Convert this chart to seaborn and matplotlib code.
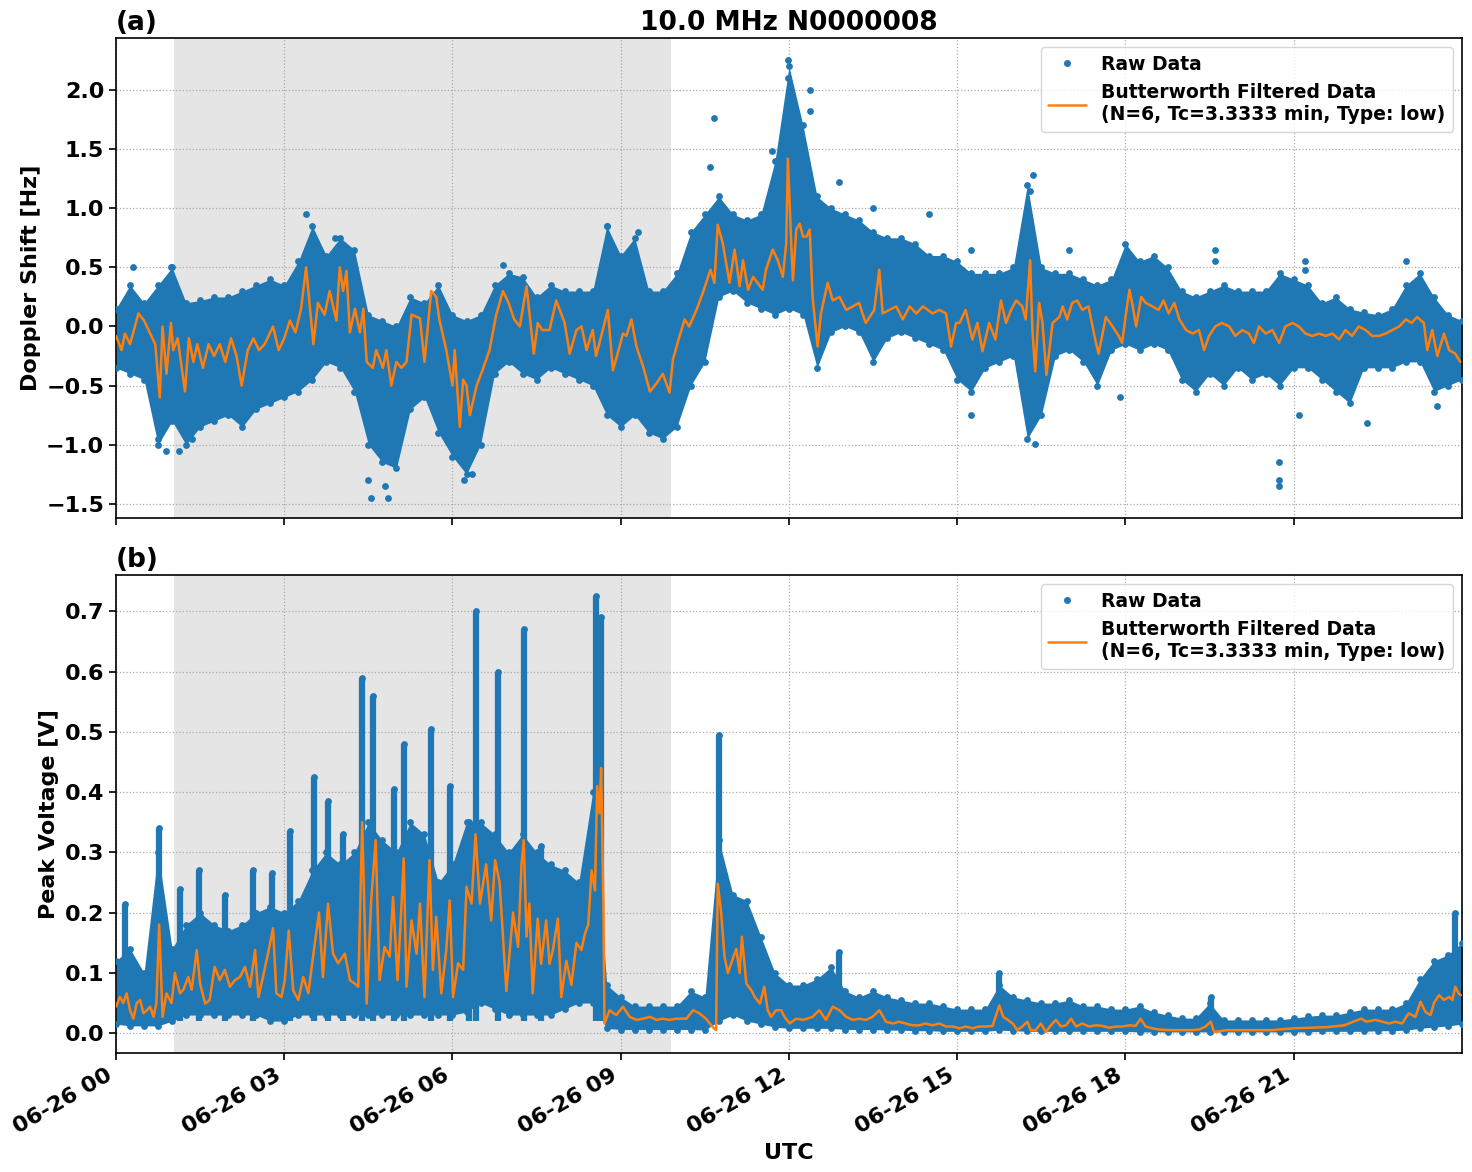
import numpy as np
import pandas as pd
import matplotlib
matplotlib.use("Agg")
import matplotlib.pyplot as plt
from matplotlib.lines import Line2D
import seaborn as sns

# ---------------- data ----------------
hour_ticks = [0, 3, 6, 9, 12, 15, 18, 21]
tick_labels = ["06-26 00", "06-26 03", "06-26 06", "06-26 09",
               "06-26 12", "06-26 15", "06-26 18", "06-26 21"]
night_start, night_end = 1.03, 9.9

# envelope grid: every 15 minutes, 0 .. 24 h
grid_t = np.linspace(0, 24, 97)

# panel (a) Doppler shift raw-data envelope
a_high = [0.15, 0.35, 0.2, 0.35, 0.5, 0.2, 0.22, 0.25, 0.25, 0.3, 0.35, 0.4,
          0.35, 0.55, 0.85, 0.6, 0.75, 0.65, 0.1, 0.05, 0.0, 0.25, 0.2, 0.35,
          0.1, 0.05, 0.1, 0.35, 0.45, 0.42, 0.25, 0.35, 0.3, 0.3, 0.3, 0.85,
          0.6, 0.75, 0.3, 0.3, 0.45, 0.8, 0.95, 1.1, 0.95, 0.9, 0.95, 1.4,
          2.2, 1.7, 1.1, 1.0, 0.95, 0.9, 0.8, 0.75, 0.75, 0.7, 0.6, 0.6,
          0.55, 0.45, 0.45, 0.45, 0.5, 1.2, 0.5, 0.45, 0.45, 0.4, 0.35, 0.4,
          0.7, 0.55, 0.6, 0.5, 0.3, 0.25, 0.3, 0.35, 0.3, 0.3, 0.3, 0.45,
          0.4, 0.35, 0.2, 0.25, 0.15, 0.12, 0.1, 0.15, 0.35, 0.45, 0.25, 0.1,
          0.05]
a_low = [-0.35, -0.4, -0.45, -1.0, -0.8, -1.0, -0.85, -0.8, -0.75, -0.85, -0.7, -0.65,
         -0.6, -0.55, -0.45, -0.3, -0.35, -0.55, -1.0, -1.15, -1.2, -0.7, -0.6, -0.9,
         -1.1, -1.25, -1.0, -0.4, -0.3, -0.4, -0.45, -0.35, -0.4, -0.45, -0.5, -0.75,
         -0.85, -0.75, -0.9, -0.95, -0.85, -0.5, -0.3, 0.25, 0.3, 0.2, 0.15, 0.1,
         0.15, 0.1, -0.35, -0.05, 0.0, -0.05, -0.3, -0.1, -0.05, -0.1, -0.15, -0.2,
         -0.45, -0.55, -0.35, -0.3, -0.25, -0.95, -0.75, -0.25, -0.2, -0.3, -0.5, -0.2,
         -0.15, -0.2, -0.15, -0.2, -0.45, -0.55, -0.4, -0.5, -0.35, -0.45, -0.4, -0.5,
         -0.35, -0.35, -0.45, -0.55, -0.65, -0.35, -0.35, -0.35, -0.3, -0.3, -0.55, -0.5,
         -0.45]

# panel (a) isolated raw points
a_out_t = [0.3, 0.98, 0.9, 0.75, 1.13, 1.35, 3.39, 3.9, 4.55, 4.85, 4.5, 4.8, 6.2, 6.35,
           6.9, 8.75, 9.3, 10.67, 10.6, 11.7, 11.98, 11.98, 12.38, 12.38, 12.1, 12.9,
           13.5, 14.5, 15.25, 15.25, 16.35, 16.3, 16.38, 17.0, 17.9, 19.6, 19.6, 20.74,
           20.74, 20.74, 21.2, 21.2, 21.1, 22.3, 23.0, 23.56]
a_out_v = [0.5, 0.5, -1.05, -0.95, -1.05, -0.95, 0.95, 0.75, -1.45, -1.45, -1.3, -1.35,
           -1.3, -1.25, 0.52, 0.85, 0.8, 1.76, 1.35, 1.48, 2.25, 2.1, 2.0, 1.82, 1.45,
           1.22, 1.0, 0.95, 0.65, -0.75, 1.28, 1.15, -0.99, 0.65, -0.6, 0.65, 0.55,
           -1.15, -1.3, -1.35, 0.55, 0.48, -0.75, -0.82, 0.55, -0.67]

# panel (a) Butterworth filtered line
a_filt_t = [0.0, 0.1, 0.16, 0.25, 0.4, 0.5, 0.6, 0.7, 0.78, 0.83, 0.9, 0.98, 1.02, 1.1,
            1.23, 1.3, 1.38, 1.45, 1.55, 1.65, 1.75, 1.85, 1.95, 2.05, 2.15, 2.24, 2.35,
            2.45, 2.55, 2.65, 2.8, 2.9, 3.0, 3.1, 3.2, 3.3, 3.39, 3.45, 3.52, 3.6, 3.72,
            3.81, 3.93, 3.99, 4.05, 4.11, 4.17, 4.26, 4.35, 4.41, 4.47, 4.58, 4.64, 4.76,
            4.82, 4.91, 5.0, 5.09, 5.18, 5.27, 5.42, 5.5, 5.62, 5.71, 5.77, 5.89, 6.0,
            6.04, 6.13, 6.19, 6.25, 6.31, 6.43, 6.55, 6.66, 6.78, 6.9, 7.0, 7.1, 7.2,
            7.32, 7.45, 7.52, 7.6, 7.73, 7.85, 8.0, 8.09, 8.21, 8.3, 8.39, 8.5, 8.56,
            8.68, 8.77, 8.86, 8.95, 9.04, 9.1, 9.19, 9.28, 9.4, 9.52, 9.64, 9.75, 9.87,
            9.93, 10.05, 10.14, 10.22, 10.35, 10.46, 10.6, 10.67, 10.73, 10.82, 10.94,
            11.03, 11.12, 11.18, 11.27, 11.36, 11.53, 11.59, 11.71, 11.8, 11.89, 11.95,
            11.98, 12.04, 12.07, 12.13, 12.19, 12.25, 12.31, 12.37, 12.42, 12.51, 12.57,
            12.69, 12.78, 12.9, 13.02, 13.14, 13.25, 13.31, 13.37, 13.52, 13.61, 13.67,
            13.79, 13.91, 14.03, 14.15, 14.27, 14.39, 14.56, 14.68, 14.8, 14.89, 14.98,
            15.04, 15.15, 15.27, 15.36, 15.45, 15.57, 15.68, 15.78, 15.87, 15.96, 16.05,
            16.16, 16.22, 16.3, 16.34, 16.39, 16.46, 16.52, 16.59, 16.7, 16.82, 16.88,
            16.96, 17.05, 17.14, 17.23, 17.34, 17.46, 17.52, 17.65, 17.77, 17.88, 17.94,
            18.0, 18.07, 18.13, 18.19, 18.28, 18.36, 18.48, 18.59, 18.68, 18.77, 18.87,
            18.96, 19.08, 19.2, 19.31, 19.4, 19.49, 19.6, 19.72, 19.85, 19.96, 20.08,
            20.2, 20.29, 20.38, 20.5, 20.62, 20.74, 20.85, 20.98, 21.09, 21.21, 21.33,
            21.45, 21.57, 21.69, 21.81, 21.92, 22.04, 22.16, 22.28, 22.4, 22.52, 22.64,
            22.76, 22.88, 23.0, 23.1, 23.2, 23.32, 23.38, 23.47, 23.56, 23.68, 23.77,
            23.88, 23.97]
a_filt_v = [-0.08, -0.2, -0.06, -0.15, 0.11, 0.05, -0.05, -0.15, -0.6, 0.0, -0.4, 0.03,
            -0.2, -0.1, -0.55, -0.1, -0.3, -0.15, -0.35, -0.15, -0.25, -0.15, -0.3, -0.1,
            -0.25, -0.5, -0.2, -0.1, -0.2, -0.15, 0.0, -0.2, -0.1, 0.05, -0.05, 0.15, 0.5,
            0.2, -0.15, 0.2, 0.1, 0.3, 0.05, 0.5, 0.3, 0.47, -0.05, 0.15, -0.05, 0.15,
            -0.3, -0.35, -0.2, -0.35, -0.2, -0.5, -0.3, -0.35, -0.3, 0.1, 0.07, -0.3, 0.3,
            0.25, 0.05, -0.2, -0.5, -0.2, -0.85, -0.45, -0.5, -0.75, -0.5, -0.35, -0.2,
            0.1, 0.3, 0.2, 0.06, 0.0, 0.34, -0.23, 0.03, -0.03, -0.03, 0.22, 0.03, -0.23,
            -0.03, 0.0, -0.2, -0.03, -0.25, -0.03, 0.14, -0.37, -0.22, -0.06, -0.08, 0.06,
            -0.17, -0.34, -0.55, -0.48, -0.4, -0.56, -0.28, -0.08, 0.06, 0.0, 0.14, 0.28,
            0.48, 0.37, 0.86, 0.7, 0.37, 0.65, 0.34, 0.56, 0.31, 0.42, 0.31, 0.48, 0.65,
            0.56, 0.42, 0.7, 1.42, 0.7, 0.39, 0.82, 0.87, 0.76, 0.76, 0.82, 0.25, -0.17,
            0.11, 0.37, 0.22, 0.25, 0.14, 0.17, 0.2, 0.11, 0.03, 0.14, 0.48, 0.11, 0.14,
            0.17, 0.06, 0.17, 0.11, 0.17, 0.11, 0.14, 0.11, -0.17, 0.03, 0.03, 0.14,
            -0.11, 0.03, -0.21, 0.03, -0.11, 0.22, 0.03, 0.14, 0.22, 0.17, 0.06, 0.56,
            -0.03, -0.38, 0.2, 0.03, -0.41, 0.03, 0.08, 0.17, 0.06, 0.2, 0.22, 0.14, 0.17,
            -0.11, -0.23, 0.08, 0.0, -0.08, -0.14, 0.08, 0.31, 0.17, 0.0, 0.25, 0.2, 0.17,
            0.14, 0.22, 0.11, 0.2, 0.06, -0.03, -0.06, -0.03, -0.2, -0.08, 0.0, 0.03, 0.0,
            -0.08, -0.03, -0.06, -0.14, 0.0, -0.06, -0.03, -0.14, 0.0, 0.03, 0.0, -0.06,
            -0.08, -0.06, -0.08, -0.06, -0.11, -0.03, -0.08, 0.0, -0.03, -0.08, -0.08,
            -0.06, -0.03, 0.0, 0.06, 0.03, 0.08, 0.03, -0.2, -0.03, -0.25, -0.06, -0.2,
            -0.23, -0.3]

# panel (b) peak voltage raw-data envelope
b_high = [0.12, 0.14, 0.1, 0.3, 0.14, 0.18, 0.2, 0.18, 0.17, 0.18, 0.2, 0.21,
          0.2, 0.22, 0.27, 0.3, 0.28, 0.3, 0.35, 0.32, 0.3, 0.35, 0.33, 0.25,
          0.28, 0.35, 0.35, 0.33, 0.3, 0.33, 0.3, 0.28, 0.27, 0.25, 0.4, 0.08,
          0.06, 0.045, 0.045, 0.045, 0.045, 0.07, 0.06, 0.32, 0.23, 0.22, 0.16, 0.1,
          0.08, 0.08, 0.09, 0.11, 0.07, 0.06, 0.07, 0.06, 0.055, 0.05, 0.05, 0.045,
          0.04, 0.04, 0.04, 0.08, 0.06, 0.055, 0.05, 0.05, 0.055, 0.045, 0.045, 0.04,
          0.04, 0.045, 0.035, 0.03, 0.025, 0.025, 0.05, 0.022, 0.022, 0.022, 0.022, 0.022,
          0.025, 0.028, 0.03, 0.03, 0.035, 0.04, 0.04, 0.04, 0.05, 0.09, 0.12, 0.13,
          0.15]
b_low = [0.015, 0.012, 0.012, 0.012, 0.02, 0.03, 0.03, 0.03, 0.03, 0.03, 0.03, 0.02,
         0.02, 0.03, 0.03, 0.03, 0.03, 0.03, 0.03, 0.03, 0.03, 0.03, 0.03, 0.03,
         0.03, 0.035, 0.05, 0.04, 0.03, 0.03, 0.03, 0.03, 0.04, 0.05, 0.05, 0.008,
         0.006, 0.006, 0.006, 0.006, 0.006, 0.006, 0.005, 0.02, 0.03, 0.02, 0.015, 0.01,
         0.008, 0.008, 0.008, 0.008, 0.006, 0.006, 0.006, 0.005, 0.005, 0.004, 0.004, 0.003,
         0.003, 0.003, 0.003, 0.005, 0.004, 0.003, 0.003, 0.003, 0.003, 0.003, 0.003, 0.003,
         0.003, 0.002, 0.002, 0.002, 0.002, 0.002, 0.002, 0.002, 0.002, 0.002, 0.002, 0.002,
         0.002, 0.002, 0.003, 0.003, 0.003, 0.003, 0.004, 0.004, 0.005, 0.008, 0.01, 0.012,
         0.015]

# panel (b) narrow bursts (columns of raw points)
b_spike_t = [0.16, 0.77, 1.14, 1.48, 1.95, 2.45, 2.79, 3.1, 3.53, 3.78, 4.05, 4.39, 4.58,
             4.96, 5.13, 5.61, 5.95, 6.3, 6.42, 6.82, 7.27, 7.58, 8.55, 8.65, 10.76,
             12.9, 15.75, 19.52, 23.88]
b_spike_v = [0.215, 0.34, 0.24, 0.27, 0.23, 0.27, 0.265, 0.335, 0.425, 0.385, 0.33, 0.59,
             0.56, 0.405, 0.48, 0.505, 0.41, 0.35, 0.70, 0.60, 0.67, 0.31, 0.725, 0.69,
             0.495, 0.135, 0.1, 0.06, 0.2]

# panel (b) Butterworth filtered line
b_filt_t = [0.0, 0.07, 0.13, 0.19, 0.25, 0.31, 0.37, 0.43, 0.49, 0.55, 0.61, 0.67, 0.72,
            0.77, 0.83, 0.9, 0.99, 1.05, 1.14, 1.2, 1.29, 1.35, 1.44, 1.5, 1.59, 1.67,
            1.76, 1.85, 1.94, 2.03, 2.12, 2.21, 2.3, 2.39, 2.48, 2.54, 2.62, 2.71, 2.8,
            2.86, 2.95, 3.01, 3.08, 3.16, 3.25, 3.34, 3.43, 3.52, 3.62, 3.69, 3.78, 3.87,
            3.96, 4.08, 4.17, 4.26, 4.32, 4.39, 4.47, 4.55, 4.63, 4.7, 4.79, 4.88, 4.94,
            5.02, 5.08, 5.13, 5.18, 5.27, 5.36, 5.42, 5.5, 5.59, 5.65, 5.71, 5.8, 5.89,
            5.95, 6.01, 6.1, 6.19, 6.25, 6.34, 6.41, 6.49, 6.6, 6.69, 6.76, 6.84, 6.9,
            6.96, 7.08, 7.17, 7.23, 7.27, 7.32, 7.37, 7.43, 7.52, 7.58, 7.67, 7.73, 7.79,
            7.88, 7.94, 8.03, 8.12, 8.21, 8.3, 8.36, 8.42, 8.48, 8.54, 8.58, 8.62, 8.65,
            8.69, 8.71, 8.8, 8.92, 9.04, 9.16, 9.28, 9.4, 9.52, 9.64, 9.75, 9.87, 9.99,
            10.17, 10.29, 10.4, 10.52, 10.64, 10.7, 10.73, 10.79, 10.85, 10.91, 10.97,
            11.06, 11.12, 11.16, 11.24, 11.33, 11.39, 11.48, 11.56, 11.62, 11.68, 11.77,
            11.86, 11.92, 12.01, 12.13, 12.25, 12.42, 12.54, 12.66, 12.78, 12.9, 13.02,
            13.14, 13.25, 13.37, 13.49, 13.61, 13.73, 13.85, 13.96, 14.08, 14.2, 14.32,
            14.44, 14.56, 14.68, 14.8, 14.92, 15.04, 15.15, 15.27, 15.39, 15.5, 15.63,
            15.75, 15.82, 15.9, 15.99, 16.07, 16.16, 16.25, 16.31, 16.4, 16.49, 16.58,
            16.67, 16.76, 16.85, 16.94, 17.03, 17.12, 17.23, 17.35, 17.47, 17.59, 17.71,
            17.83, 17.95, 18.07, 18.18, 18.27, 18.36, 18.48, 18.6, 18.8, 19.0, 19.2,
            19.31, 19.43, 19.52, 19.58, 19.8, 20.2, 20.6, 21.0, 21.3, 21.6, 21.9, 22.2,
            22.3, 22.46, 22.58, 22.7, 22.81, 22.93, 23.05, 23.17, 23.26, 23.35, 23.44,
            23.5, 23.59, 23.68, 23.77, 23.83, 23.88, 23.94, 23.98]
b_filt_v = [0.044, 0.06, 0.05, 0.066, 0.038, 0.024, 0.05, 0.055, 0.033, 0.038, 0.044,
            0.027, 0.05, 0.18, 0.027, 0.066, 0.05, 0.1, 0.066, 0.072, 0.093, 0.072, 0.138,
            0.082, 0.049, 0.055, 0.11, 0.088, 0.105, 0.077, 0.088, 0.093, 0.11, 0.077,
            0.138, 0.06, 0.093, 0.132, 0.174, 0.066, 0.06, 0.088, 0.17, 0.071, 0.055,
            0.093, 0.066, 0.132, 0.2, 0.093, 0.215, 0.132, 0.116, 0.132, 0.088, 0.082,
            0.077, 0.35, 0.049, 0.22, 0.32, 0.088, 0.143, 0.127, 0.226, 0.088, 0.193,
            0.29, 0.077, 0.187, 0.132, 0.215, 0.06, 0.287, 0.105, 0.193, 0.066, 0.138,
            0.22, 0.06, 0.116, 0.105, 0.243, 0.215, 0.33, 0.215, 0.28, 0.187, 0.287,
            0.25, 0.16, 0.07, 0.2, 0.143, 0.28, 0.32, 0.16, 0.215, 0.066, 0.19, 0.115,
            0.187, 0.115, 0.138, 0.19, 0.06, 0.12, 0.08, 0.15, 0.138, 0.165, 0.18, 0.27,
            0.237, 0.41, 0.365, 0.44, 0.215, 0.016, 0.038, 0.03, 0.044, 0.027, 0.022,
            0.024, 0.027, 0.022, 0.024, 0.022, 0.024, 0.024, 0.038, 0.033, 0.024, 0.01,
            0.005, 0.248, 0.2, 0.127, 0.1, 0.116, 0.14, 0.1, 0.16, 0.082, 0.071, 0.06,
            0.049, 0.077, 0.038, 0.027, 0.038, 0.038, 0.027, 0.016, 0.024, 0.022, 0.027,
            0.038, 0.022, 0.044, 0.038, 0.027, 0.022, 0.024, 0.022, 0.027, 0.038, 0.019,
            0.016, 0.019, 0.016, 0.013, 0.013, 0.016, 0.013, 0.016, 0.011, 0.011, 0.008,
            0.011, 0.008, 0.011, 0.011, 0.012, 0.046, 0.027, 0.022, 0.016, 0.005, 0.011,
            0.019, 0.005, 0.005, 0.016, 0.002, 0.013, 0.022, 0.011, 0.013, 0.024, 0.011,
            0.016, 0.011, 0.013, 0.012, 0.009, 0.011, 0.011, 0.013, 0.012, 0.024, 0.011,
            0.008, 0.006, 0.005, 0.005, 0.005, 0.006, 0.011, 0.019, 0.002, 0.005, 0.005,
            0.005, 0.008, 0.009, 0.01, 0.013, 0.024, 0.019, 0.022, 0.019, 0.016, 0.019,
            0.016, 0.033, 0.027, 0.052, 0.035, 0.03, 0.05, 0.063, 0.055, 0.06, 0.055,
            0.077, 0.066, 0.063]

# ---------------- styling ----------------
sns.set_style("ticks")
plt.rcParams.update({
    "font.family": ["DejaVu Sans"],
    "font.weight": "bold",
    "axes.labelweight": "bold",
    "axes.titleweight": "bold",
    "font.size": 14,
    "text.color": "black",
    "axes.labelcolor": "black",
    "axes.edgecolor": "black",
    "xtick.color": "black",
    "ytick.color": "black",
})
BLUE = "#1f77b4"
ORANGE = "#ff7f0e"

fig = plt.figure(figsize=(14.72, 11.72), dpi=100)
ax_a = fig.add_axes([0.0788, 0.5580, 0.9144, 0.4096])
ax_b = fig.add_axes([0.0788, 0.1015, 0.9144, 0.4078])


def draw_panel(ax, low, high, out_t, out_v, ft, fv, spike_t=None, spike_v=None, base=0.0):
    ax.axvspan(night_start, night_end, color="gray", alpha=0.2, lw=0, zorder=0)
    ax.fill_between(grid_t, low, high, color=BLUE, lw=0, zorder=2)
    env = pd.DataFrame({"t": np.concatenate([grid_t, grid_t, out_t]),
                        "v": np.concatenate([high, low, out_v])})
    if spike_t is not None:
        ax.vlines(spike_t, base, spike_v, color=BLUE, lw=4.5, zorder=2)
        env = pd.concat([env, pd.DataFrame({"t": spike_t, "v": spike_v})])
    sns.scatterplot(data=env, x="t", y="v", ax=ax, color=BLUE, s=24,
                    linewidth=0, zorder=3, legend=False)
    filt = pd.DataFrame({"t": ft, "v": fv})
    sns.lineplot(data=filt, x="t", y="v", ax=ax, color=ORANGE, lw=1.8,
                 estimator=None, sort=False, zorder=4)
    ax.set_xlim(0, 24)
    ax.set_xticks(hour_ticks)
    ax.grid(True, ls=":", color="#aaaaaa", lw=0.9)
    ax.set_axisbelow(True)
    for s in ax.spines.values():
        s.set_linewidth(1.2)
        s.set_color("black")
    ax.tick_params(labelsize=16, width=1.2, length=5, colors="black")
    handles = [Line2D([], [], ls="none", marker=".", color=BLUE, markersize=8),
               Line2D([], [], color=ORANGE, lw=1.8)]
    leg = ax.legend(handles, ["Raw Data",
                              "Butterworth Filtered Data\n(N=6, Tc=3.3333 min, Type: low)"],
                    loc="upper right", fontsize=13.5)
    for txt in leg.get_texts():
        txt.set_color("black")


draw_panel(ax_a, a_low, a_high, a_out_t, a_out_v, a_filt_t, a_filt_v)
ax_a.set_ylim(-1.62, 2.44)
ax_a.set_yticks([-1.5, -1.0, -0.5, 0.0, 0.5, 1.0, 1.5, 2.0])
ax_a.set_xticklabels([])
ax_a.set_xlabel("")
ax_a.set_ylabel("Doppler Shift [Hz]", fontsize=16, color="black")
ax_a.set_title("10.0 MHz N0000008", fontsize=19, color="black")
ax_a.set_title("(a)", loc="left", fontsize=19, color="black")

draw_panel(ax_b, b_low, b_high, [], [], b_filt_t, b_filt_v, b_spike_t, b_spike_v, 0.02)
ax_b.set_ylim(-0.033, 0.76)
ax_b.set_yticks([0.0, 0.1, 0.2, 0.3, 0.4, 0.5, 0.6, 0.7])
ax_b.set_xticklabels(tick_labels, rotation=30, ha="right")
ax_b.set_xlabel("UTC", fontsize=16, color="black")
ax_b.set_ylabel("Peak Voltage [V]", fontsize=16, color="black")
ax_b.set_title("(b)", loc="left", fontsize=19, color="black")

fig.savefig("out.png", dpi=100)
